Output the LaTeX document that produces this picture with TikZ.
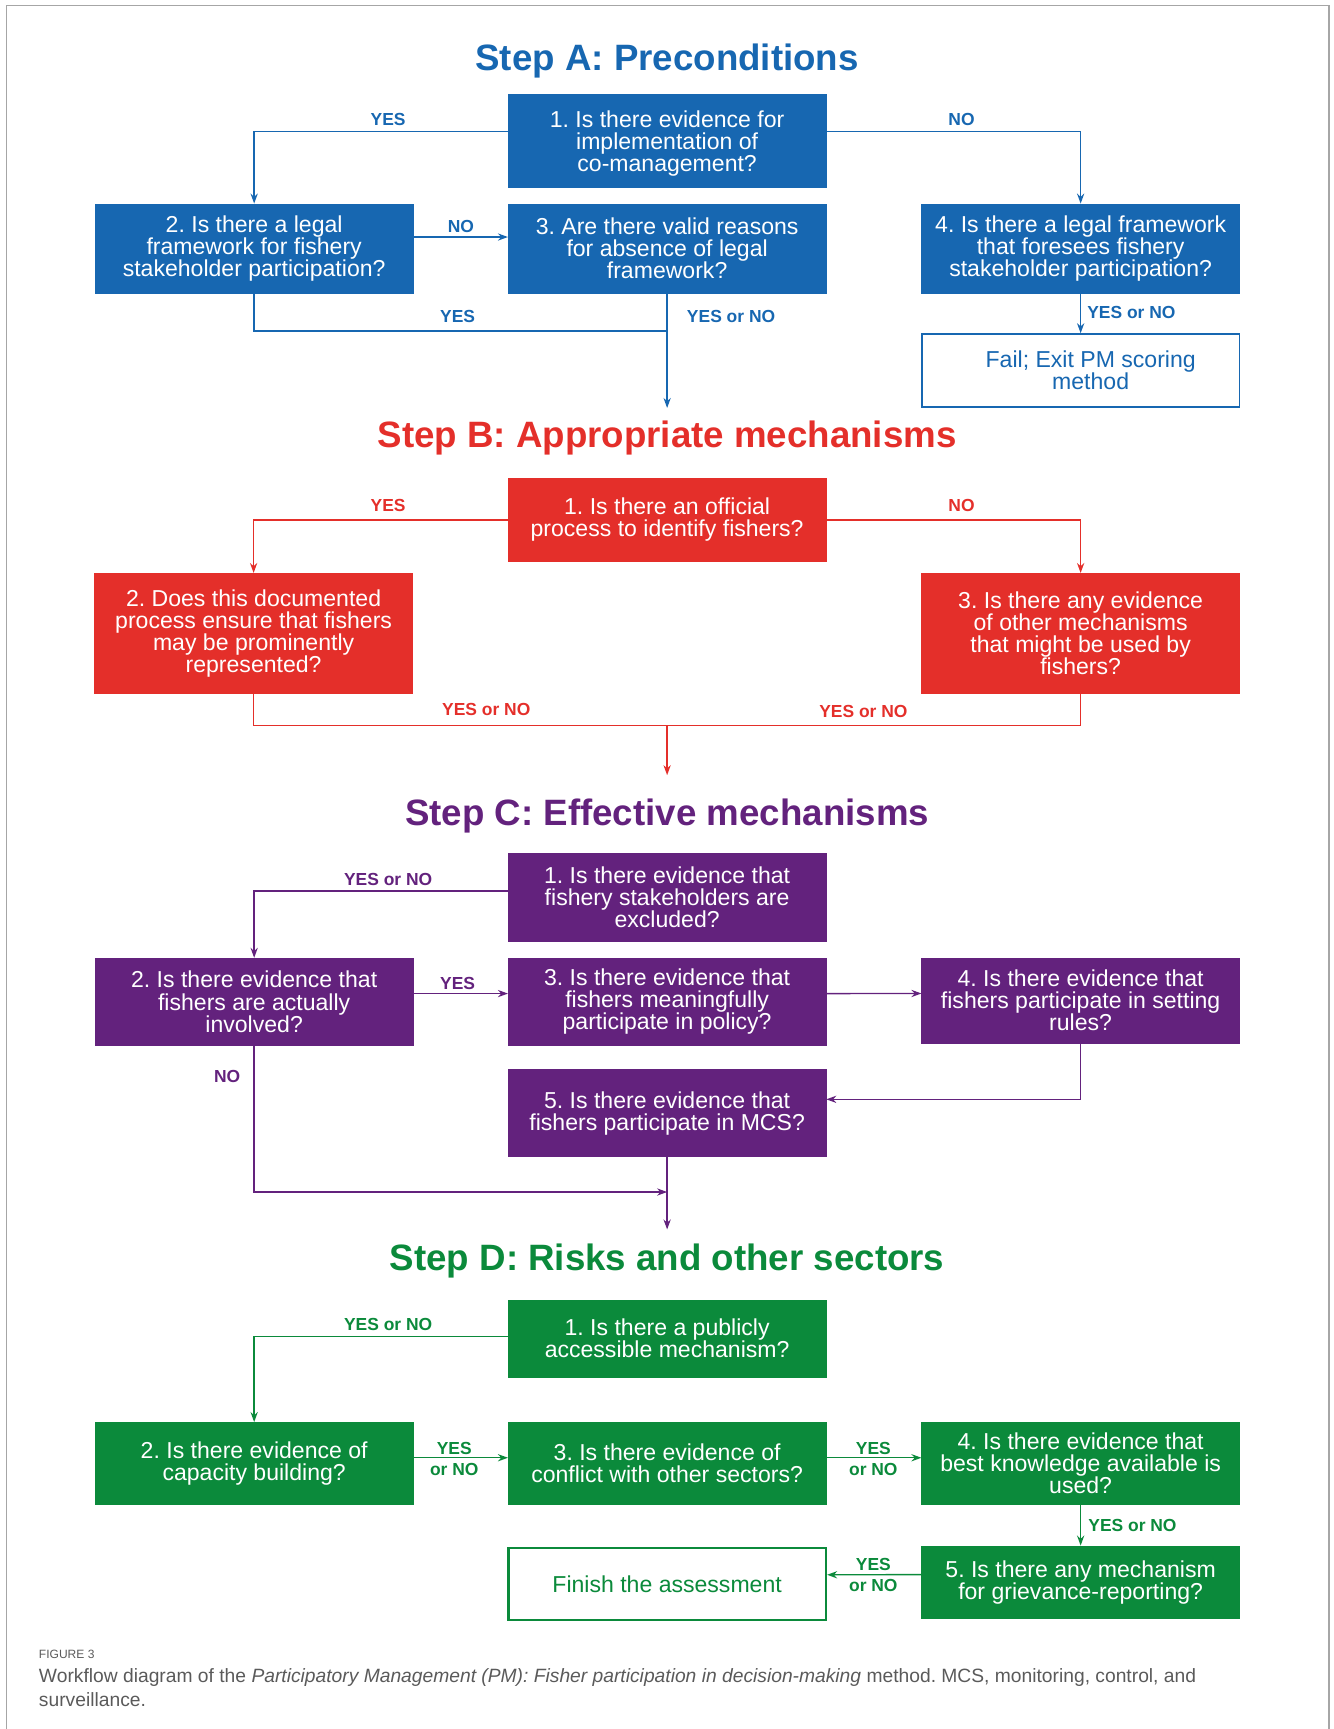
\documentclass[tikz,border=0pt]{standalone}
\usepackage{fontspec}
\setmainfont{Liberation Sans}
\usetikzlibrary{arrows.meta}
\definecolor{cA}{HTML}{1767B1}
\definecolor{cB}{HTML}{E42F2A}
\definecolor{cC}{HTML}{63227D}
\definecolor{cD}{HTML}{0B8A3B}
\definecolor{capgray}{HTML}{5A5A5A}
\frenchspacing
\begin{document}
\begin{tikzpicture}[x=0.55pt,y=-0.55pt,
  box/.style={rectangle, fill=#1, draw=#1, text=white, align=center,
    font=\frenchspacing\fontsize{11.5}{11}\selectfont, inner sep=2pt, minimum width=158.4pt},
  obox/.style={rectangle, fill=white, draw=#1, text=#1, align=center,
    font=\frenchspacing\fontsize{11.5}{11}\selectfont, inner sep=2pt, minimum width=158.4pt},
  conn/.style={draw=#1, line width=0.7pt},
  arr/.style={draw=#1, line width=0.7pt, -{Stealth[length=5pt,width=3.6pt]}},
  lab/.style={text=#1, font=\bfseries\fontsize{8.7}{10.5}\selectfont, inner sep=0pt, align=center},
  ttl/.style={text=#1, font=\bfseries\fontsize{18.3}{20}\selectfont, inner sep=0pt},
]
\useasboundingbox (0,0) rectangle (1209,1568);
\draw[gray!70, line width=0.8pt] (6,1568) -- (6,5) -- (1205,5) -- (1205,1568);

%% ---------------- Step A
\node[ttl=cA] (tA) at (605,55) {Step A: Preconditions};
\node[box=cA, minimum height=46.2pt, text depth=0pt] (A1) at (605,128) {1. Is there evidence for\\implementation of\\co-management?};
\node[box=cA, minimum height=44.55pt] (A2) at (230.5,225.5) {2. Is there a legal\\framework for fishery\\stakeholder participation?};
\node[box=cA, minimum height=44.55pt] (A3) at (605,225.5) {3. Are there valid reasons\\for absence of legal\\framework?};
\node[box=cA, minimum height=44.55pt] (A4) at (980,225.5) {4. Is there a legal framework\\that foresees fishery\\stakeholder participation?};
\node[obox=cA, minimum height=36.3pt, line width=0.9pt] (AF) at (980,336) {\hspace*{10pt}Fail; Exit PM scoring\\\hspace*{10pt}method};
\coordinate (jA) at (605,300);
\coordinate (eA) at (605,370);

\draw[arr=cA] ([yshift=4.95pt]A1.west) -| (A2.north);
\draw[arr=cA] ([yshift=4.95pt]A1.east) -| (A4.north);
\draw[arr=cA] ([yshift=5.8pt]A2.east) -- ([yshift=5.8pt]A3.west);
\draw[conn=cA] (A2.south) |- (jA);
\draw[arr=cA] (A3.south) -- (eA);
\draw[arr=cA] (A4.south) -- (AF.north);

\node[lab=cA] (lA1) at (352,108) {YES};
\node[lab=cA] (lA2) at (872,108) {NO};
\node[lab=cA] (lA3) at (418,205) {NO};
\node[lab=cA] (lA4) at (415,287) {YES};
\node[lab=cA] (lA5) at (663,287) {YES or NO};
\node[lab=cA] (lA6) at (1026,283) {YES or NO};

%% ---------------- Step B
\node[ttl=cB] (tB) at (605,397) {Step B: Appropriate mechanisms};
\node[box=cB, minimum height=41.25pt] (B1) at (605,471.5) {1. Is there an official\\process to identify fishers?};
\node[box=cB, minimum height=59.95pt] (B2) at (230,574.5) {2. Does this documented\\process ensure that fishers\\may be prominently\\represented?};
\node[box=cB, minimum height=59.95pt] (B3) at (980,574.5) {3. Is there any evidence\\of other mechanisms\\that might be used by\\fishers?};
\coordinate (jB) at (605,658);
\coordinate (eB) at (605,703);

\draw[arr=cB] (B1.west) -| (B2.north);
\draw[arr=cB] (B1.east) -| (B3.north);
\draw[conn=cB] (B2.south) |- (jB);
\draw[conn=cB] (B3.south) |- (jB);
\draw[arr=cB] (jB) -- (eB);

\node[lab=cB] (lB1) at (352,458) {YES};
\node[lab=cB] (lB2) at (872,458) {NO};
\node[lab=cB] (lB3) at (441,643) {YES or NO};
\node[lab=cB] (lB4) at (783,645) {YES or NO};

%% ---------------- Step C
\node[ttl=cC] (tC) at (605,740) {Step C: Effective mechanisms};
\node[box=cC, minimum height=44pt] (C1) at (605,814) {1. Is there evidence that\\fishery stakeholders are\\excluded?};
\node[box=cC, minimum height=43.45pt] (C2) at (230.5,908.5) {2. Is there evidence that\\fishers are actually\\involved?};
\node[box=cC, minimum height=43.45pt] (C3) at (605,908.5) {3. Is there evidence that\\fishers meaningfully\\participate in policy?};
\node[box=cC, minimum height=42.35pt] (C4) at (980,907.5) {4. Is there evidence that\\fishers participate in setting\\rules?};
\node[box=cC, minimum height=43.45pt] (C5) at (605,1009.5) {5. Is there evidence that\\fishers participate in MCS?};
\coordinate (jC) at (605,1081);
\coordinate (eC) at (605,1115);

\draw[arr=cC] ([yshift=3.3pt]C1.west) -| (C2.north);
\draw[arr=cC] ([yshift=4.1pt]C2.east) -- ([yshift=4.1pt]C3.west);
\draw[arr=cC] ([yshift=4.1pt]C3.east) -- ([yshift=3.6pt]C4.west);
\draw[arr=cC] (C4.south) |- ([yshift=6.9pt]C5.east);
\draw[arr=cC] (C2.south) |- (jC);
\draw[arr=cC] (C5.south) -- (eC);

\node[lab=cC] (lC1) at (352,798) {YES or NO};
\node[lab=cC] (lC2) at (415,892) {YES};
\node[lab=cC] (lC3) at (206,976) {NO};

%% ---------------- Step D
\node[ttl=cD] (tD) at (605,1144) {Step D: Risks and other sectors};
\node[box=cD, minimum height=38.5pt] (D1) at (605,1214) {1. Is there a publicly\\accessible mechanism?};
\node[box=cD, minimum height=40.7pt] (D2) at (230.5,1327) {2. Is there evidence of\\capacity building?};
\node[box=cD, minimum height=40.7pt] (D3) at (605,1327) {3. Is there evidence of\\conflict with other sectors?};
\node[box=cD, minimum height=40.7pt] (D4) at (980,1327) {4. Is there evidence that\\best knowledge available is\\used?};
\node[box=cD, minimum height=36.3pt] (D5) at (980,1435) {5. Is there any mechanism\\for grievance-reporting?};
\node[obox=cD, minimum height=35.75pt, line width=1.2pt] (DF) at (605,1436.5) {Finish the assessment};

\draw[arr=cD] ([yshift=1.1pt]D1.west) -| (D2.north);
\draw[arr=cD] ([yshift=2.75pt]D2.east) -- ([yshift=2.75pt]D3.west);
\draw[arr=cD] ([yshift=2.75pt]D3.east) -- ([yshift=2.75pt]D4.west);
\draw[arr=cD] (D4.south) -- (D5.north);
\draw[arr=cD] ([yshift=3.85pt]D5.west) -- ([yshift=4.6pt]DF.east);

\node[lab=cD] (lD1) at (352,1201) {YES or NO};
\node[lab=cD] (lD2) at (412,1323) {YES\\or NO};
\node[lab=cD] (lD3) at (792,1323) {YES\\or NO};
\node[lab=cD] (lD4) at (1027,1383) {YES or NO};
\node[lab=cD] (lD5) at (792,1428) {YES\\or NO};

%% ---------------- caption
\node[anchor=base west, inner sep=0pt, text=capgray, font=\fontsize{6}{8}\selectfont] (cap0) at (35,1504) {FIGURE 3};
\node[anchor=base west, inner sep=0pt, text=capgray, font=\frenchspacing\fontsize{9.6}{11}\selectfont] (cap1) at (35,1526) {Workflow diagram of the \textit{Participatory Management (PM): Fisher participation in decision-making} method. MCS, monitoring, control, and};
\node[anchor=base west, inner sep=0pt, text=capgray, font=\fontsize{9.6}{11}\selectfont] (cap2) at (35,1548) {surveillance.};
\end{tikzpicture}
\end{document}
